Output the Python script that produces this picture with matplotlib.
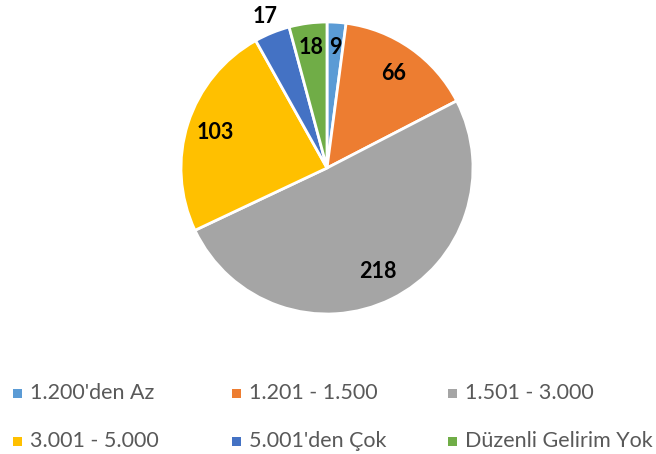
import matplotlib; matplotlib.use('Agg')
import matplotlib.pyplot as plt
from matplotlib.patches import Rectangle
import numpy as np

plt.rcParams['font.family'] = ['Lato', 'DejaVu Sans']

labels = ["1.200'den Az", "1.201 - 1.500", "1.501 - 3.000",
          "3.001 - 5.000", "5.001'den Çok", "Düzenli Gelirim Yok"]
values = [9, 66, 218, 103, 17, 18]
colors = ['#5B9BD5', '#ED7D31', '#A5A5A5', '#FFC000', '#4472C4', '#70AD47']
lab_r = [0.83, 0.79, 0.79, 0.80, 1.12, 0.83]

W, H = 656, 454
fig = plt.figure(figsize=(W/100, H/100), dpi=100)
ax = fig.add_axes([181/W, (H-314)/H, 292/W, 292/H])
wedges, _ = ax.pie(values, colors=colors, startangle=90, counterclock=False,
                   wedgeprops=dict(edgecolor='white', linewidth=2))
ax.set_xlim(-1, 1); ax.set_ylim(-1, 1); ax.set_aspect('equal')
for w, v, r in zip(wedges, values, lab_r):
    a = np.deg2rad((w.theta1 + w.theta2) / 2)
    ax.text(r*np.cos(a), r*np.sin(a), str(v), ha='center', va='center',
            fontsize=15.5, fontweight='bold', color='black', clip_on=False)

# legend, row by row
col_x = [13, 232, 448]
row_y = [393, 441]
for i, (lab, c) in enumerate(zip(labels, colors)):
    x = col_x[i % 3]; y = row_y[i // 3]
    fig.patches.append(Rectangle((x/W, (H-y-4.5)/H), 9/W, 9/H, facecolor=c,
                                 transform=fig.transFigure, figure=fig))
    fig.text((x+17)/W, (H-y)/H, lab, ha='left', va='center',
             fontsize=15.5, color='#595959')
plt.savefig('out.png', dpi=100)
